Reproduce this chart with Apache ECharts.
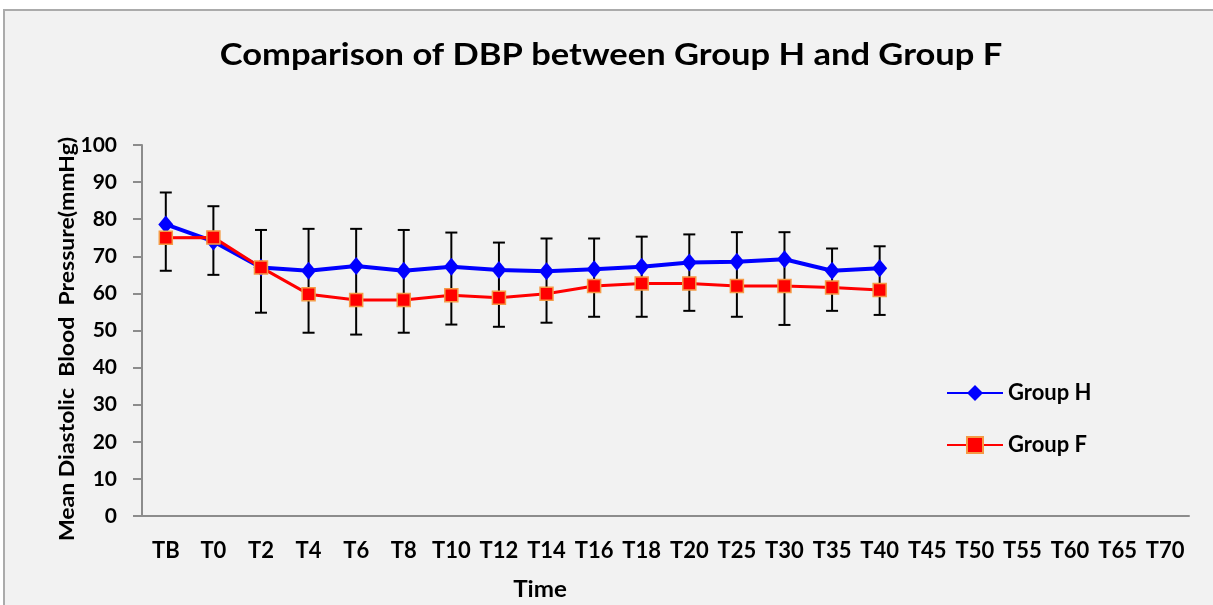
<!DOCTYPE html>
<html>
<head>
<meta charset="utf-8">
<title>Comparison of DBP between Group H and Group F</title>
<script src="https://cdn.jsdelivr.net/npm/echarts@6/dist/echarts.min.js"></script>
<style>
  html, body { margin: 0; padding: 0; background: #ffffff; }
  #chart { width: 1213px; height: 605px; }
</style>
</head>
<body>
<div id="chart"></div>
<script>
// Time points on the x axis
const timePoints = ['TB', 'T0', 'T2', 'T4', 'T6', 'T8', 'T10', 'T12', 'T14', 'T16', 'T18',
  'T20', 'T25', 'T30', 'T35', 'T40', 'T45', 'T50', 'T55', 'T60', 'T65', 'T70'];

// Mean diastolic blood pressure (mmHg)
const groupH = [78.6, 74.0, 67.0, 66.1, 67.4, 66.1, 67.2, 66.3, 66.0, 66.5, 67.2, 68.3, 68.5, 69.2, 66.1, 66.8];
const groupF = [75.0, 75.1, 67.0, 59.8, 58.2, 58.2, 59.5, 58.8, 59.9, 62.0, 62.7, 62.7, 62.0, 62.0, 61.6, 60.9];

// Error bar ends (upper from Group H, lower from Group F)
const errorUpper = [87.2, 83.5, 77.1, 77.4, 77.4, 77.1, 76.4, 73.7, 74.8, 74.8, 75.3, 75.9, 76.5, 76.5, 72.1, 72.7];
const errorLower = [66.1, 65.0, 54.8, 49.4, 48.9, 49.4, 51.6, 51.0, 52.1, 53.7, 53.7, 55.3, 53.7, 51.5, 55.3, 54.2];

// Y axis range
const yMin = 0, yMax = 100, yStep = 10;

const FONT = 'Lato';
const errorData = errorUpper.map((hi, i) => [i, errorLower[i], hi]);

const chart = echarts.init(document.getElementById('chart'), null, { renderer: 'canvas' });

chart.setOption({
  backgroundColor: '#ffffff',
  animation: false,
  textStyle: { fontFamily: FONT },
  graphic: [
    {
      type: 'rect', z: -10, silent: true,
      shape: { x: 4, y: 10, width: 1240, height: 620 },
      style: { fill: '#f2f2f2', stroke: '#ababab', lineWidth: 2 }
    },
    {
      // chart title, slightly widened
      type: 'text', silent: true,
      x: 611, y: 55, scaleX: 1.15,
      style: {
        text: 'Comparison of DBP between Group H and Group F',
        font: 'bold 30px ' + FONT, fill: '#000',
        align: 'center', verticalAlign: 'middle'
      }
    },
    {
      // y axis title, reads bottom to top
      type: 'text', silent: true,
      x: 68, y: 339, rotation: Math.PI / 2, scaleX: 1.15,
      style: {
        text: 'Mean Diastolic  Blood  Pressure(mmHg)',
        font: 'bold 20px ' + FONT, fill: '#000',
        align: 'center', verticalAlign: 'middle'
      }
    },
    {
      type: 'text', silent: true,
      x: 540, y: 590, scaleX: 1.1,
      style: {
        text: 'Time',
        font: 'bold 22px ' + FONT, fill: '#000',
        align: 'center', verticalAlign: 'middle'
      }
    }
  ],
  legend: {
    orient: 'vertical',
    left: 941, top: 377,
    itemWidth: 56, itemHeight: 20, itemGap: 30,
    data: ['Group H', 'Group F'],
    textStyle: { fontFamily: FONT, fontWeight: 'bold', fontSize: 22, color: '#000' }
  },
  grid: { left: 142, top: 145, right: 24, bottom: 89, containLabel: false },
  xAxis: {
    type: 'category',
    data: timePoints,
    boundaryGap: true,
    axisLine: { lineStyle: { color: '#8c8c8c', width: 2 } },
    axisTick: { length: 7, lineStyle: { color: '#8c8c8c', width: 2 } },
    axisLabel: { margin: 24, interval: 0, fontFamily: FONT, fontWeight: 'bold', fontSize: 22, color: '#000' },
    splitLine: { show: false }
  },
  yAxis: {
    type: 'value',
    min: yMin, max: yMax, interval: yStep,
    axisLine: { show: true, lineStyle: { color: '#8c8c8c', width: 2 } },
    axisTick: { show: true, inside: false, length: 9, lineStyle: { color: '#8c8c8c', width: 2 } },
    axisLabel: { margin: 25, fontFamily: FONT, fontWeight: 'bold', fontSize: 21, color: '#000' },
    splitLine: { show: false }
  },
  series: [
    {
      name: 'Error bars',
      type: 'custom',
      z: 1,
      silent: true,
      data: errorData,
      encode: { x: 0, y: [1, 2] },
      renderItem: function (params, api) {
        const x = api.value(0);
        const lo = api.coord([x, api.value(1)]);
        const hi = api.coord([x, api.value(2)]);
        const cap = 6;
        const style = { stroke: '#000', lineWidth: 2 };
        return {
          type: 'group',
          children: [
            { type: 'line', shape: { x1: lo[0], y1: lo[1], x2: hi[0], y2: hi[1] }, style: style },
            { type: 'line', shape: { x1: hi[0] - cap, y1: hi[1], x2: hi[0] + cap, y2: hi[1] }, style: style },
            { type: 'line', shape: { x1: lo[0] - cap, y1: lo[1], x2: lo[0] + cap, y2: lo[1] }, style: style }
          ]
        };
      }
    },
    {
      name: 'Group H',
      type: 'line',
      z: 3,
      data: groupH,
      symbol: 'diamond',
      symbolSize: [15, 18],
      showAllSymbol: true,
      lineStyle: { color: '#0000ff', width: 4 },
      itemStyle: { color: '#0000ff' }
    },
    {
      name: 'Group F',
      type: 'line',
      z: 4,
      data: groupF,
      symbol: 'rect',
      symbolSize: 13,
      showAllSymbol: true,
      lineStyle: { color: '#ff0000', width: 3 },
      itemStyle: { color: '#ff0000', borderColor: '#f59a45', borderWidth: 1.5 }
    }
  ]
});
</script>
</body>
</html>
